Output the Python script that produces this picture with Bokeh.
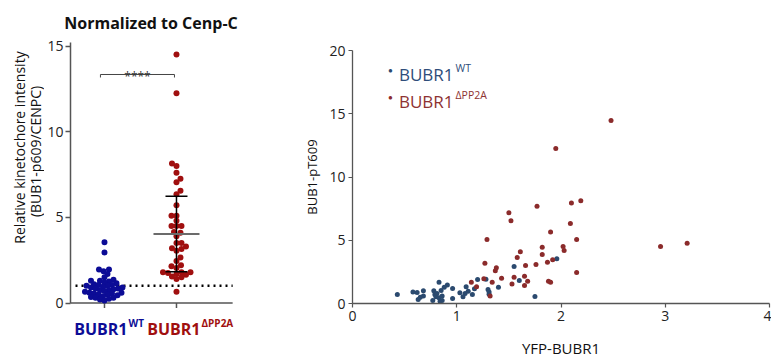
import numpy as np
from bokeh.plotting import figure
from bokeh.layouts import row, column
from bokeh.models import Label, FixedTicker, Range1d
from bokeh.embed import file_html
from bokeh.resources import INLINE

# ---------------- data ----------------
groups = ["BUBR1 WT", "BUBR1 dPP2A"]
group_pos = [1, 2]
wt_vals = [3.55, 2.95, 1.95, 1.95, 1.85, 1.7, 1.5, 1.35, 1.3, 1.3, 1.25, 1.2, 1.15, 1.1,
           1.05, 1.05, 1.0, 1.0, 0.95, 0.9, 0.9, 0.85, 0.85, 0.8, 0.75, 0.75, 0.7, 0.65,
           0.6, 0.6, 0.55, 0.55, 0.5, 0.5, 0.45, 0.4, 0.35, 0.3, 0.3, 0.25, 0.2, 0.15]
pp_vals = [14.5, 12.25, 8.15, 8.0, 7.6, 7.25, 7.05, 6.55, 6.35, 5.7, 5.1, 5.1, 4.8, 4.5,
           4.5, 4.5, 4.15, 4.1, 3.9, 3.5, 3.5, 3.3, 3.2, 3.15, 3.05, 2.65, 2.45, 2.2, 2.15,
           2.05, 1.8, 1.8, 1.8, 1.75, 1.7, 1.65, 1.5, 1.4, 1.55, 0.65]
pp_mean = 4.03
pp_sd = 2.2
norm_line = 1.0
sig_y = 13.34
left_yticks = [0, 5, 10, 15]

wt_x = [1.96, 1.55, 1.60, 1.75, 1.40, 1.30, 1.31, 1.31, 1.20, 1.28, 1.17, 1.15, 1.09, 1.11,
        1.08, 1.06, 1.03, 0.96, 0.96, 0.91, 0.88, 0.83, 0.78, 0.79, 0.80, 0.77, 0.83, 0.85,
        0.86, 0.86, 0.84, 0.68, 0.68, 0.65, 0.63, 0.62, 0.58, 0.43, 0.81]
wt_y = [3.53, 2.92, 1.82, 0.55, 1.29, 1.10, 0.90, 0.74, 1.90, 1.92, 1.16, 0.71, 1.32, 0.97,
        0.79, 0.53, 0.84, 0.39, 1.18, 1.47, 1.29, 1.68, 1.00, 0.71, 0.53, 0.24, 0.45, 1.03,
        0.60, 0.24, 0.18, 1.00, 0.60, 0.50, 0.32, 0.87, 0.90, 0.71, 0.79]
pp_x = [1.50, 1.77, 1.52, 2.10, 2.19, 2.09, 1.29, 1.90, 2.15, 1.61, 1.82, 2.02, 2.03, 1.82,
        1.58, 1.92, 1.87, 1.27, 1.66, 1.76, 1.38, 1.37, 2.15, 1.43, 1.55, 1.65, 1.26, 1.68,
        1.88, 1.90, 1.34, 1.14, 1.53, 1.65, 1.19, 1.32, 2.955, 3.21, 2.48, 1.95]
pp_y = [7.18, 7.68, 6.55, 7.95, 8.13, 6.32, 5.05, 5.66, 5.05, 4.10, 4.45, 4.50, 4.18, 3.87,
        3.63, 3.45, 3.26, 3.18, 3.00, 3.08, 2.82, 2.58, 2.45, 2.00, 2.08, 2.16, 1.95, 1.76,
        1.76, 1.68, 1.68, 1.68, 1.55, 1.42, 1.32, 0.60, 4.50, 4.76, 14.47, 12.26]
right_xticks = [0, 1, 2, 3, 4]
right_yticks = [0, 5, 10, 15, 20]

FONT = "Open Sans"
BLUE_L, RED_L = "#0c0c96", "#a00f0f"
BLUE_R, RED_R = "#2b4a6f", "#8b2b2b"
AXIS_C = "#555555"


def lab(p, x, y, text, size, color="#111111", bold=False, align="left", baseline="alphabetic", angle=0.0):
    # x, y in canvas pixels of figure p (from its top-left corner)
    p.add_layout(Label(x=x, y=y, x_units="canvas", y_units="canvas", text=text,
                       text_font=FONT, text_font_size=f"{size}px", text_color=color,
                       text_font_style="bold" if bold else "normal", text_align=align,
                       text_baseline=baseline, angle=angle, level="overlay"))


def blank(w, h):
    f = figure(width=w, height=h, x_range=Range1d(0, w), y_range=Range1d(0, h),
               output_backend="svg", toolbar_location=None,
               x_axis_location=None, y_axis_location=None,
               min_border_left=0, min_border_right=0, min_border_top=0, min_border_bottom=0)
    f.outline_line_color = None
    f.grid.visible = False
    return f


# ---------------- left block ----------------
TOP_H = 34          # title strip height
YL_W = 44           # y-label strip width
MW, MH = 224, 320   # main left figure
title_fig = blank(YL_W + MW, TOP_H)
ylab_fig = blank(YL_W, MH)

ppy = 17.13
ppx = 72.0
zero_px = 302.5 - TOP_H           # canvas y of value 0
y_top = zero_px / ppy
y_bot = -(MH - zero_px) / ppy
lb = 26
x0 = 0.528
x1 = x0 + (MW - lb) / ppx
axis_end = 2.78

p1 = figure(width=MW, height=MH, x_range=Range1d(x0, x1), y_range=Range1d(y_bot, y_top),
            output_backend="svg", toolbar_location=None, x_axis_location=None,
            min_border_left=lb, min_border_right=0, min_border_top=0, min_border_bottom=0)
p1.outline_line_color = None
p1.grid.visible = False


def swarm(vals, d):
    vals = np.asarray(vals, float)
    order = np.argsort(vals)
    placed = []
    out = np.zeros(len(vals))
    for n, i in enumerate(order):
        y = vals[i] * ppy
        found = None
        k = 0
        while found is None:
            cands = [0.0] if k == 0 else ([k * 0.5, -k * 0.5] if n % 2 == 0 else [-k * 0.5, k * 0.5])
            for s in cands:
                if all((s - px) ** 2 + (y - py) ** 2 >= d * d for px, py in placed):
                    found = s
                    break
            k += 1
        placed.append((found, y))
        out[i] = found / ppx
    return out


wt_off = swarm(wt_vals, 4.5)
pp_off = swarm(pp_vals, 4.9)

# x axis (drawn at value 0) with category ticks
p1.line([x0, axis_end], [0, 0], line_color=AXIS_C, line_width=1.5)
p1.segment(x0=group_pos, y0=[0, 0], x1=group_pos, y1=[-5 / ppy] * 2, line_color=AXIS_C, line_width=1.5)

p1.line([x0 + 5 / ppx, axis_end], [norm_line, norm_line], line_color="black", line_width=2.5, line_dash="2 4")

p1.scatter(group_pos[0] + wt_off, wt_vals, size=6, color=BLUE_L, line_color=None)
p1.scatter(group_pos[1] + pp_off, pp_vals, size=6, color=RED_L, line_color=None)

g2 = group_pos[1]
p1.line([g2, g2], [pp_mean - pp_sd, pp_mean + pp_sd], line_color="black", line_width=1.5)
for yy in (pp_mean - pp_sd, pp_mean + pp_sd):
    p1.line([g2 - 11 / ppx, g2 + 11 / ppx], [yy, yy], line_color="black", line_width=1.5)
p1.line([g2 - 23 / ppx, g2 + 23 / ppx], [pp_mean, pp_mean], line_color="#6b6b6b", line_width=2)

tk = 3 / ppy
p1.line([group_pos[0] - 0.056, group_pos[0] - 0.056, g2 - 0.028, g2 - 0.028],
        [sig_y - tk, sig_y, sig_y, sig_y - tk], line_color="#444444", line_width=1)

ax = p1.yaxis[0]
ax.bounds = (0, 15.18)
ax.axis_line_color = AXIS_C
ax.axis_line_width = 1.5
ax.major_tick_line_color = AXIS_C
ax.major_tick_line_width = 1.5
ax.major_tick_in = 0
ax.major_tick_out = 5
ax.minor_tick_line_color = None
ax.major_label_text_font = FONT
ax.major_label_text_font_size = "14px"
ax.major_label_text_color = "#222222"
ax.major_label_standoff = 2
ax.ticker = FixedTicker(ticks=left_yticks)

# texts of the left block (page coordinates converted to each canvas)
lab(title_fig, 150.5, 22, "Normalized to Cenp-C", 16, "#111111", True, "center")
lab(ylab_fig, 18.5, 147 - TOP_H, "Relative kinetochore intensity", 14, "#111111", False, "center", "middle", np.pi / 2)
lab(ylab_fig, 34.5, 151 - TOP_H, "(BUB1-p609/CENPC)", 14, "#111111", False, "center", "middle", np.pi / 2)
OXL, OYL = YL_W, TOP_H
lab(p1, 137 - OXL, 76 - OYL, "****", 12, "#333333", False, "center")
lab(p1, 127 - OXL, 328 - OYL, "BUBR1", 16, BLUE_L, True, "right")
lab(p1, 128 - OXL, 322 - OYL, "WT", 10, BLUE_L, True, "left")
lab(p1, 200 - OXL, 328 - OYL, "BUBR1", 16, RED_L, True, "right")
lab(p1, 201 - OXL, 322 - OYL, "\u0394PP2A", 10, RED_L, True, "left")

left_block = column(title_fig, row(ylab_fig, p1, spacing=0), spacing=0)

# ---------------- right panel ----------------
RW, RH = 503, 362
rb, rr, rt = 84, 2, 50
rfh = 253
rbot = RH - rt - rfh
rfw = RW - rb - rr
p2 = figure(width=RW, height=RH, x_range=Range1d(0, rfw / 104.25), y_range=Range1d(0, 20),
            output_backend="svg", toolbar_location=None,
            min_border_left=rb, min_border_right=rr, min_border_top=rt, min_border_bottom=rbot)
p2.outline_line_color = None
p2.grid.visible = False

p2.scatter(wt_x, wt_y, size=5, color=BLUE_R, line_color=None)
p2.scatter(pp_x, pp_y, size=5, color=RED_R, line_color=None)

for ax in (p2.xaxis[0], p2.yaxis[0]):
    ax.axis_line_color = AXIS_C
    ax.axis_line_width = 1.3
    ax.major_tick_line_color = AXIS_C
    ax.major_tick_line_width = 1.2
    ax.major_tick_in = 0
    ax.major_tick_out = 4
    ax.minor_tick_line_color = None
    ax.major_label_text_font = FONT
    ax.major_label_text_font_size = "14px"
    ax.major_label_text_color = "#222222"
    ax.major_label_standoff = 3
    ax.axis_label_text_font = FONT
    ax.axis_label_text_font_style = "normal"
    ax.axis_label_text_color = "#111111"
p2.xaxis.ticker = FixedTicker(ticks=right_xticks)
p2.yaxis.ticker = FixedTicker(ticks=right_yticks)
p2.xaxis.axis_label = "YFP-BUBR1"
p2.xaxis.axis_label_text_font_size = "15px"
p2.xaxis.axis_label_standoff = 14
p2.yaxis.axis_label = "BUB1-pT609"
p2.yaxis.axis_label_text_font_size = "13px"
p2.yaxis.axis_label_standoff = 5

OX = 268  # page x of the right canvas
lab(p2, 390 - OX, 69, "\u25CF", 8, BLUE_R, False, "center", "middle")
lab(p2, 453 - OX, 74, "BUBR1", 17, "#2e4d7a", False, "right")
lab(p2, 455 - OX, 67, "WT", 10.5, "#2e4d7a", False, "left")
lab(p2, 390 - OX, 96, "\u25CF", 8, RED_R, False, "center", "middle")
lab(p2, 453 - OX, 101, "BUBR1", 17, "#8e3232", False, "right")
lab(p2, 455 - OX, 94, "\u0394PP2A", 10.5, "#8e3232", False, "left")

layout = row(left_block, p2, spacing=0)
open("out.html", "w").write(file_html(layout, INLINE))
